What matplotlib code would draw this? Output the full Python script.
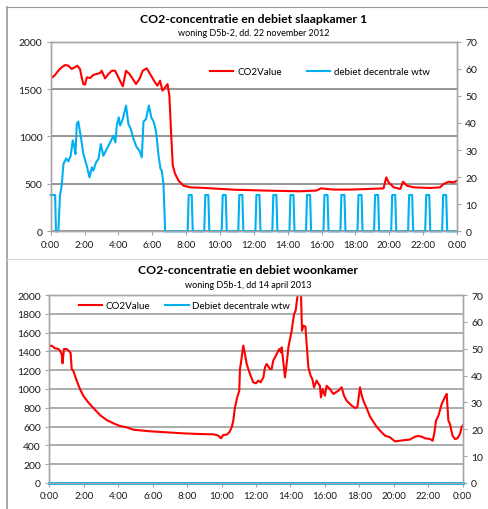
import matplotlib as mpl
import matplotlib.pyplot as plt
from matplotlib.lines import Line2D

mpl.use("Agg")
plt.rcParams["font.family"] = ["Lato", "DejaVu Sans"]

RED = "#ff0000"
BLUE = "#00b0f0"
GRID = "#8c8c8c"
SPINE = "#a6a6a6"

# ---- chart 1: slaapkamer, 22 november 2012 ----
top_co2_h = [0.0, 0.12, 0.26, 0.45, 0.65, 0.85, 1.04, 1.24, 1.43, 1.57,
             1.73, 1.83, 1.93, 2.03, 2.13, 2.33, 2.52, 2.72, 2.92, 3.01,
             3.21, 3.41, 3.61, 3.80, 3.90, 4.26, 4.45, 4.65, 4.85, 5.04,
             5.24, 5.44, 5.67, 5.91, 6.10, 6.30, 6.46, 6.60, 6.76, 6.90,
             7.01, 7.11, 7.21, 7.35, 7.55, 7.84, 8.24, 8.83, 10.8, 12.8,
             14.7, 15.7, 15.96, 16.7, 17.7, 18.7, 19.66, 19.82, 19.96, 20.26,
             20.65, 20.81, 21.05, 21.44, 22.42, 23.0, 23.21, 23.50, 23.80, 24.0]
top_co2 = [1641, 1624, 1650, 1694, 1730, 1754, 1747, 1712, 1730, 1747,
           1712, 1624, 1553, 1547, 1624, 1617, 1650, 1659, 1670, 1694,
           1613, 1659, 1694, 1694, 1659, 1529, 1694, 1659, 1606, 1553,
           1606, 1694, 1719, 1648, 1589, 1536, 1589, 1483, 1518, 1553,
           1430, 1044, 692, 605, 534, 481, 464, 460, 439, 429,
           422, 430, 453, 440, 440, 446, 453, 569, 516, 464,
           446, 523, 480, 464, 457, 464, 499, 523, 516, 534]

top_flow_h = [0.0, 0.26, 0.31, 0.45, 0.55, 0.65, 0.75, 0.91, 1.04, 1.18,
              1.30, 1.38, 1.46, 1.54, 1.63, 1.77, 1.93, 2.13, 2.29, 2.43,
              2.52, 2.68, 2.82, 2.96, 3.11, 3.31, 3.51, 3.70, 3.82, 3.90,
              4.02, 4.10, 4.26, 4.45, 4.59, 4.73, 4.89, 5.08, 5.24, 5.38,
              5.48, 5.62, 5.80, 5.94, 6.10, 6.23, 6.37, 6.49, 6.56, 6.66,
              6.76]
top_flow = [13.4, 13.4, 0, 0, 13.4, 16.9, 24.8, 26.9, 25.8, 27.9,
            33.5, 31.7, 28.5, 39.6, 40.5, 35.3, 28.5, 24.2, 19.9, 23.6,
            22.4, 25.5, 26.7, 32.2, 27.9, 30.4, 32.8, 35.3, 32.8, 39.0,
            42.1, 39.0, 41.5, 46.4, 39.6, 37.8, 34.1, 31.0, 29.8, 27.3,
            40.5, 41.3, 46.4, 42.1, 40.2, 36.5, 27.9, 23.0, 22.4, 17.5,
            0]
# afterwards the unit switches on once an hour at a fixed flow
top_pulse_centres = [8.24, 9.22, 10.25, 11.23, 12.24, 13.24, 14.25, 15.23,
                     16.26, 17.26, 18.27, 19.25, 20.26, 21.26, 22.27, 23.27]
top_pulse_level = 13.4

# ---- chart 2: woonkamer, 14 april 2013 ----
bot_co2_h = [0.0, 0.14, 0.33, 0.52, 0.62, 0.72, 0.77, 0.85, 1.01, 1.14,
             1.24, 1.30, 1.39, 1.59, 1.78, 1.97, 2.26, 2.56, 2.94, 3.33,
             3.72, 4.10, 4.49, 4.88, 5.84, 6.81, 7.78, 8.75, 9.52, 9.81,
             9.97, 10.10, 10.30, 10.45, 10.59, 10.68, 10.78, 10.91, 11.03, 11.07,
             11.13, 11.26, 11.36, 11.46, 11.65, 11.84, 12.0, 12.13, 12.27, 12.43,
             12.52, 12.62, 12.81, 12.91, 13.0, 13.2, 13.35, 13.45, 13.49, 13.58,
             13.68, 13.78, 13.88, 14.07, 14.21, 14.30, 14.40, 14.49, 14.61, 14.67,
             14.75, 14.87, 14.94, 15.04, 15.17, 15.27, 15.37, 15.52, 15.61, 15.71,
             15.77, 15.87, 16.00, 16.10, 16.29, 16.49, 16.78, 16.97, 17.11, 17.26,
             17.55, 17.75, 17.88, 18.04, 18.14, 18.27, 18.42, 18.62, 19.00, 19.20,
             19.49, 19.78, 20.07, 20.36, 20.65, 20.94, 21.23, 21.43, 21.62, 21.81,
             22.10, 22.26, 22.36, 22.45, 22.59, 22.78, 22.98, 23.07, 23.17, 23.26,
             23.41, 23.55, 23.69, 23.84, 23.95, 24.0]
bot_co2 = [1454, 1461, 1433, 1426, 1408, 1372, 1273, 1425, 1425, 1404,
           1383, 1213, 1195, 1089, 1000, 929, 858, 798, 723, 670,
           635, 606, 592, 567, 550, 539, 528, 521, 518, 504,
           475, 511, 514, 539, 592, 663, 805, 911, 982, 1213,
           1284, 1461, 1372, 1266, 1160, 1071, 1060, 1089, 1071, 1124,
           1230, 1266, 1213, 1213, 1301, 1372, 1425, 1390, 1443, 1301,
           1124, 1266, 1443, 1620, 1798, 1833, 1975, 2046, 2030, 1620,
           1674, 1663, 1479, 1230, 1142, 1106, 1018, 1089, 1060, 1035,
           911, 1000, 929, 1035, 1000, 947, 982, 1018, 929, 876,
           823, 798, 805, 1018, 929, 858, 798, 706, 599, 557,
           504, 486, 443, 450, 457, 462, 493, 500, 493, 475,
           468, 450, 539, 663, 716, 840, 918, 947, 663, 628,
           504, 468, 475, 521, 599, 610]
bot_flow_h = [0.0, 24.0]
bot_flow = [0, 0]

hour_ticks = list(range(0, 25, 2))
hour_labels = [f"{h % 24}:00" for h in hour_ticks]


def pulse_series(centres, level):
    xs, ys = [], []
    for c in centres:
        xs += [c - 0.15, c - 0.09, c + 0.09, c + 0.15]
        ys += [0, level, level, 0]
    return xs, ys


def style_axes(ax, ax2, left_ticks):
    ax.set_xlim(0, 24)
    ax.set_ylim(0, 2000)
    ax2.set_ylim(0, 70)
    ax.set_xticks(hour_ticks)
    ax.set_xticklabels(hour_labels)
    ax.set_yticks(left_ticks)
    ax2.set_yticks(range(0, 71, 10))
    ax.grid(axis="y", color=GRID, linewidth=1.3)
    ax.set_axisbelow(True)
    for a in (ax, ax2):
        for sp in a.spines.values():
            sp.set_color(SPINE)
            sp.set_linewidth(1.0)
        a.tick_params(colors=SPINE, labelcolor="#1a1a1a", labelsize=7.5, length=3,
                      width=0.8, pad=3)
    ax.tick_params(axis="x", labelsize=7)


fig = plt.figure(figsize=(4.89, 5.10), dpi=100)

# page frame lines
fig.add_artist(Line2D([7 / 489, 7 / 489], [0, 1 - 8 / 510], color="#9a9a9a", lw=1.2))
fig.add_artist(Line2D([7 / 489, 1], [1 - 8 / 510, 1 - 8 / 510], color="#9a9a9a", lw=0.8))
fig.add_artist(Line2D([7 / 489, 1], [1 - 260 / 510, 1 - 260 / 510], color="#d9d9d9", lw=0.8))

# top chart
ax = fig.add_axes([0.1037, 0.5445, 0.8309, 0.3718])
ax2 = ax.twinx()
ax.plot(top_co2_h, top_co2, color=RED, lw=1.5, label="CO2Value")
px, py = pulse_series(top_pulse_centres, top_pulse_level)
ax2.plot(top_flow_h + px + [24.0], top_flow + py + [0], color=BLUE, lw=1.5,
         label="debiet decentrale wtw", clip_on=False)
style_axes(ax, ax2, range(0, 2001, 500))
fig.text(0.518, 0.962, "CO2-concentratie en debiet slaapkamer 1", ha="center", va="center",
         fontsize=8.8, fontweight="bold")
fig.text(0.519, 0.935, "woning D5b-2, dd. 22 november 2012", ha="center", va="center",
         fontsize=6.5)
h1 = [Line2D([], [], color=RED, lw=1.5), Line2D([], [], color=BLUE, lw=1.5)]
fig.legend(h1, ["CO2Value", "debiet decentrale wtw"], loc="center left",
           bbox_to_anchor=(210 / 489, 1 - 73 / 510), ncol=2, frameon=False, fontsize=7,
           handlelength=2.4, handletextpad=0.4, columnspacing=2.6, borderaxespad=0,
           borderpad=0)

# bottom chart
bx = fig.add_axes([0.1008, 0.051, 0.8454, 0.3686])
bx2 = bx.twinx()
bx.plot(bot_co2_h, bot_co2, color=RED, lw=1.5, label="CO2Value")
bx2.plot(bot_flow_h, bot_flow, color=BLUE, lw=2.0, label="Debiet decentrale wtw",
         clip_on=False)
style_axes(bx, bx2, range(0, 2001, 200))
bx.grid(axis="y", color="#a6a6a6", linewidth=1.3)
fig.text(0.507, 0.469, "CO2-concentratie en debiet woonkamer", ha="center", va="center",
         fontsize=8.8, fontweight="bold")
fig.text(0.507, 0.441, "woning D5b-1, dd 14 april 2013", ha="center", va="center",
         fontsize=6.5)
fig.legend(h1, ["CO2Value", "Debiet decentrale wtw"], loc="center left",
           bbox_to_anchor=(79 / 489, 1 - 307 / 510), ncol=2, frameon=False, fontsize=7,
           handlelength=2.4, handletextpad=0.3, columnspacing=1.6, borderaxespad=0,
           borderpad=0)

fig.savefig("out.png", dpi=100)
plt.close(fig)
